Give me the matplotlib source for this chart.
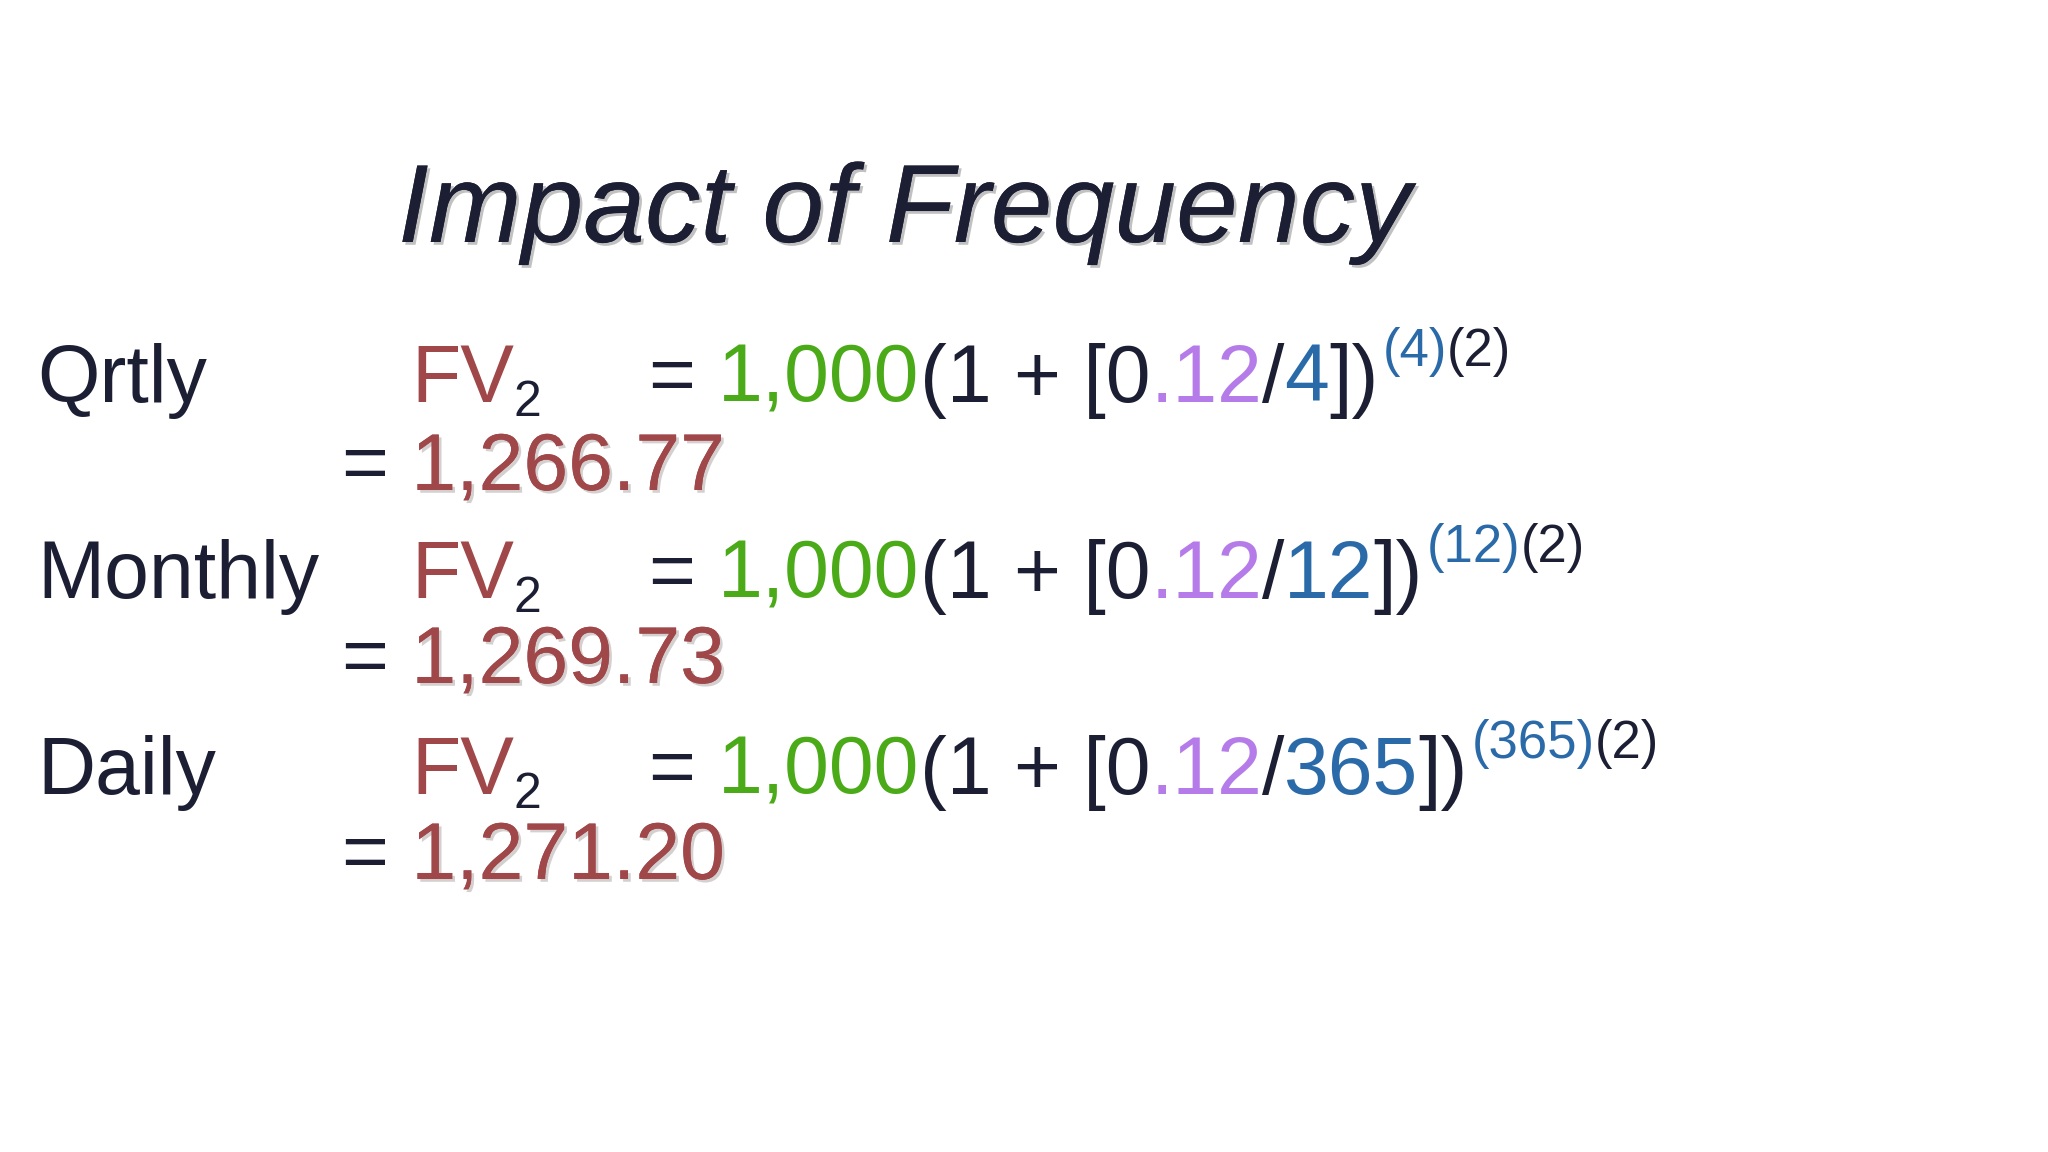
import matplotlib
matplotlib.use("Agg")
import matplotlib.pyplot as plt
import matplotlib.patheffects as pe

W, H = 2048, 1152
NAVY = "#1c1f33"; RED = "#a0474a"; GREEN = "#4aaa18"; PURP = "#b57be8"; BLUE = "#2a6aa8"
FONT = "Liberation Sans"

title = "Impact of Frequency"
labels = ["Qrtly", "Monthly", "Daily"]
periods = ["4", "12", "365"]
results = ["1,266.77", "1,269.73", "1,271.20"]
row_base = [402, 598, 794]
res_base = [490, 683, 879]

fig = plt.figure(figsize=(20.48, 11.52), dpi=100)
fig.patch.set_facecolor("white")
r = fig.canvas.get_renderer()

def put(x, y, s, c, size, **kw):
    t = fig.text(x / W, 1 - y / H, s, color=c, fontsize=size, family=FONT,
                 va="baseline", ha="left", **kw)
    return x + t.get_window_extent(r).width

shadow = [pe.withSimplePatchShadow(offset=(2, -2), alpha=0.25), pe.Normal()]
put(398, 242, title, NAVY, 80, style="italic", path_effects=shadow)

B, S, SUB = 58, 38, 36
for lab, p, res, yb, yr in zip(labels, periods, results, row_base, res_base):
    put(37, yb, lab, NAVY, B)
    x = put(411, yb, "FV", RED, B)
    put(x, yb + 14, "2", NAVY, SUB)
    x = put(649, yb, "= ", NAVY, B)
    x = put(x, yb, "1,000", GREEN, B)
    x = put(x, yb, "(1 + [0", NAVY, B)
    x = put(x, yb, ".12", PURP, B)
    x = put(x, yb, "/", NAVY, B)
    x = put(x, yb, p, BLUE, B)
    x = put(x, yb, "])", NAVY, B)
    x = put(x + 4, yb - 36, "(" + p + ")", BLUE, S)
    put(x, yb - 36, "(2)", NAVY, S)
    x = put(342, yr, "= ", NAVY, B)
    put(x, yr, res, RED, B, path_effects=[pe.withSimplePatchShadow(offset=(2, -2), alpha=0.2), pe.Normal()])

fig.savefig("out.png", dpi=100, facecolor="white")
